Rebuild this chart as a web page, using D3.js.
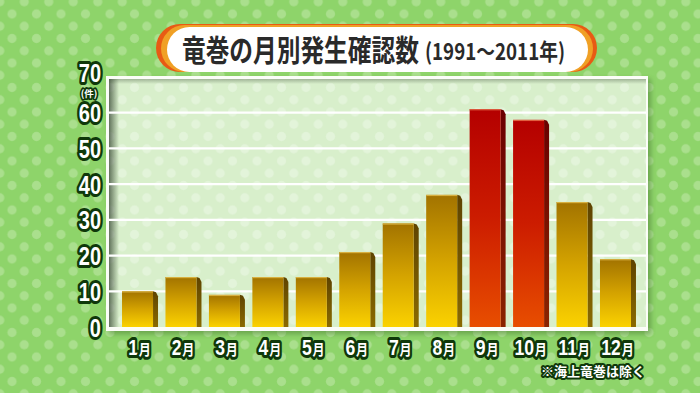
<!DOCTYPE html>
<html><head><meta charset="utf-8">
<script src="https://cdn.jsdelivr.net/npm/d3@7/dist/d3.min.js"></script>
<style>
html,body{margin:0;padding:0;background:#8ed46a;}
svg{display:block;}
</style></head>
<body>
<svg id="c" width="700" height="393"></svg>
<script>
const months = ["1月","2月","3月","4月","5月","6月","7月","8月","9月","10月","11月","12月"];
const values = [10,14,9,14,14,21,29,37,61,58,35,19];
const highlight = ["9月","10月"];
const yTicks = [0,10,20,30,40,50,60,70];
const titleMain = "竜巻の月別発生確認数";
const titleSub = "(1991～2011年)";
const unitLabel = "(件)";
const note = "※海上竜巻は除く";

const svg = d3.select("#c");
const defs = svg.append("defs");

function dotPattern(id, bg, dot, r){
  const p = defs.append("pattern").attr("id", id).attr("patternUnits","userSpaceOnUse")
    .attr("width",24.5).attr("height",24.5).attr("x",-0.25).attr("y",1.75);
  p.append("rect").attr("width",24.5).attr("height",24.5).attr("fill",bg);
  [[0,0],[24.5,0],[0,24.5],[24.5,24.5],[12.25,12.25]].forEach(([cx,cy])=>
    p.append("circle").attr("cx",cx).attr("cy",cy).attr("r",r).attr("fill",dot));
}
dotPattern("bgDots","#8ed46a","#aadf8d",4.6);
dotPattern("plotDots","#d8efcb","#e3f4da",4.6);

function vgrad(id, stops){
  const g = defs.append("linearGradient").attr("id",id).attr("x1",0).attr("y1",0).attr("x2",0).attr("y2",1);
  stops.forEach(([o,c])=>g.append("stop").attr("offset",o).attr("stop-color",c));
}
vgrad("gold",[[0,"#a27300"],[0.5,"#d4a300"],[1,"#fbd200"]]);
vgrad("goldSide",[[0,"#5e4300"],[1,"#8a6a00"]]);
vgrad("red",[[0,"#b40000"],[0.5,"#cc1c00"],[1,"#e84e00"]]);
vgrad("redSide",[[0,"#6a0000"],[1,"#8a2400"]]);
const sh = defs.append("linearGradient").attr("id","shadowL").attr("x1",0).attr("x2",1).attr("y1",0).attr("y2",0);
sh.append("stop").attr("offset",0).attr("stop-color","#3a4a36").attr("stop-opacity",0.75);
sh.append("stop").attr("offset",1).attr("stop-color","#3a4a36").attr("stop-opacity",0);
const shT = defs.append("linearGradient").attr("id","shadowT").attr("x1",0).attr("x2",0).attr("y1",0).attr("y2",1);
shT.append("stop").attr("offset",0).attr("stop-color","#3a4a36").attr("stop-opacity",0.35);
shT.append("stop").attr("offset",1).attr("stop-color","#3a4a36").attr("stop-opacity",0);
const fb = defs.append("filter").attr("id","blur").attr("x","-10%").attr("y","-10%").attr("width","120%").attr("height","120%");
fb.append("feGaussianBlur").attr("stdDeviation",2.5);

// background
svg.append("rect").attr("width",700).attr("height",393).attr("fill","url(#bgDots)");

// plot frame
const P = {l:106, t:76, r:648, b:331};
svg.append("rect").attr("x",P.l+3).attr("y",P.t+3).attr("width",P.r-P.l).attr("height",P.b-P.t)
  .attr("fill","#3e6a2c").attr("opacity",0.45).attr("filter","url(#blur)");
svg.append("rect").attr("x",P.l).attr("y",P.t).attr("width",P.r-P.l).attr("height",P.b-P.t).attr("fill","#fbfdf8");
svg.append("rect").attr("x",P.l+3).attr("y",P.t+3).attr("width",P.r-P.l-5).attr("height",P.b-P.t-7).attr("fill","url(#plotDots)");
svg.append("rect").attr("x",P.l+3).attr("y",P.t+3).attr("width",10).attr("height",P.b-P.t-7).attr("fill","url(#shadowL)");
svg.append("rect").attr("x",P.l+3).attr("y",P.t+3).attr("width",P.r-P.l-5).attr("height",5).attr("fill","url(#shadowT)");

// scales
const y = d3.scaleLinear().domain([0,70]).range([327,77]);
const x = d3.scaleBand().domain(months).range([100.3,652.7]).paddingInner(0.2865).paddingOuter(0.5);

// gridlines
svg.append("g").selectAll("line").data(yTicks.filter(t=>t>0 && t<70)).join("line")
  .attr("x1",P.l+3).attr("x2",P.r-2).attr("y1",d=>y(d)).attr("y2",d=>y(d))
  .attr("stroke","#ffffff").attr("stroke-width",2.2);

// bars
const side = 5;
const bars = svg.append("g").selectAll("g").data(months.map((m,i)=>({m,v:values[i]}))).join("g");
bars.append("path").attr("d",d=>{
  const x0 = x(d.m)+x.bandwidth(), yt = y(d.v), yb = y(0);
  return `M${x0},${yt} L${x0+side*0.6},${yt+side*0.2} L${x0+side},${yt+side} L${x0+side},${yb} L${x0},${yb} Z`;
}).attr("fill",d=>highlight.includes(d.m)?"url(#redSide)":"url(#goldSide)");
bars.append("rect").attr("x",d=>x(d.m)).attr("y",d=>y(d.v)).attr("width",x.bandwidth())
  .attr("height",d=>y(0)-y(d.v)).attr("fill",d=>highlight.includes(d.m)?"url(#red)":"url(#gold)");
bars.append("rect").attr("x",d=>x(d.m)).attr("y",d=>y(d.v)).attr("width",x.bandwidth()).attr("height",1.2)
  .attr("fill",d=>highlight.includes(d.m)?"#e06040":"#d8b040");

// outlined text helper
const numFont = "'Liberation Sans',Arial,sans-serif";
const jpFont = "'Noto Sans CJK JP',sans-serif";
function outlined(sel, sw){
  return sel.attr("fill","#ffffff").attr("stroke","#0f380a").attr("stroke-width",sw||6)
    .attr("stroke-linejoin","round").attr("paint-order","stroke").attr("font-weight","bold");
}

// y axis labels
const yAxis = svg.append("g").attr("transform","translate(101,0)")
  .call(d3.axisLeft(y).tickValues(yTicks).tickSize(0).tickPadding(0));
yAxis.select(".domain").remove();
outlined(yAxis.selectAll("text")).attr("font-family",numFont).attr("font-size",25)
  .attr("dy",null).attr("y",9).attr("transform","scale(0.8,1)");
yAxis.selectAll(".tick").filter(d=>d===70).select("text").attr("y",4.5);
outlined(svg.append("text").attr("x",89).attr("y",97).attr("text-anchor","middle")
  .attr("font-family",jpFont).attr("font-size",9.5),3.5).text(unitLabel);

// x axis labels
const xAxis = svg.append("g").attr("transform","translate(0,355)")
  .call(d3.axisBottom(x).tickSize(0).tickPadding(0).tickFormat(()=>""));
xAxis.select(".domain").remove();
xAxis.selectAll(".tick").each(function(d){
  const t = outlined(d3.select(this).select("text")).attr("y",0).attr("dy",null).attr("text-anchor","middle")
    .attr("transform","translate(2,0) scale(0.8,1)");
  t.append("tspan").attr("font-family",numFont).attr("font-size",22).text(d.replace("月",""));
  t.append("tspan").attr("font-family",jpFont).attr("font-size",15).attr("dx",1).text("月");
});

// note
outlined(svg.append("text").attr("x",645).attr("y",376).attr("text-anchor","end")
  .attr("font-family",jpFont).attr("font-size",13),4).text(note);

// title pill
const T = svg.append("g");
T.append("rect").attr("x",156).attr("y",24).attr("width",441).attr("height",48).attr("rx",24).attr("fill","#e85a14");
T.append("rect").attr("x",161).attr("y",25).attr("width",432).attr("height",47).attr("rx",23.5).attr("fill","#f0a025");
T.append("rect").attr("x",167).attr("y",27).attr("width",421).attr("height",45).attr("rx",22.5).attr("fill","#ffffff");
function fitText(x0, yb, size, target, txt){
  const t = T.append("text").attr("x",0).attr("y",0).attr("font-family",jpFont).attr("font-weight","bold")
    .attr("font-size",size).attr("fill","#2a2a2a").text(txt);
  const len = t.node().getComputedTextLength();
  t.attr("transform",`translate(${x0},${yb}) scale(${target/len},1)`);
}
fitText(182, 61, 30, 237, titleMain);
fitText(425, 60, 23, 140, titleSub);
</script>
</body></html>
